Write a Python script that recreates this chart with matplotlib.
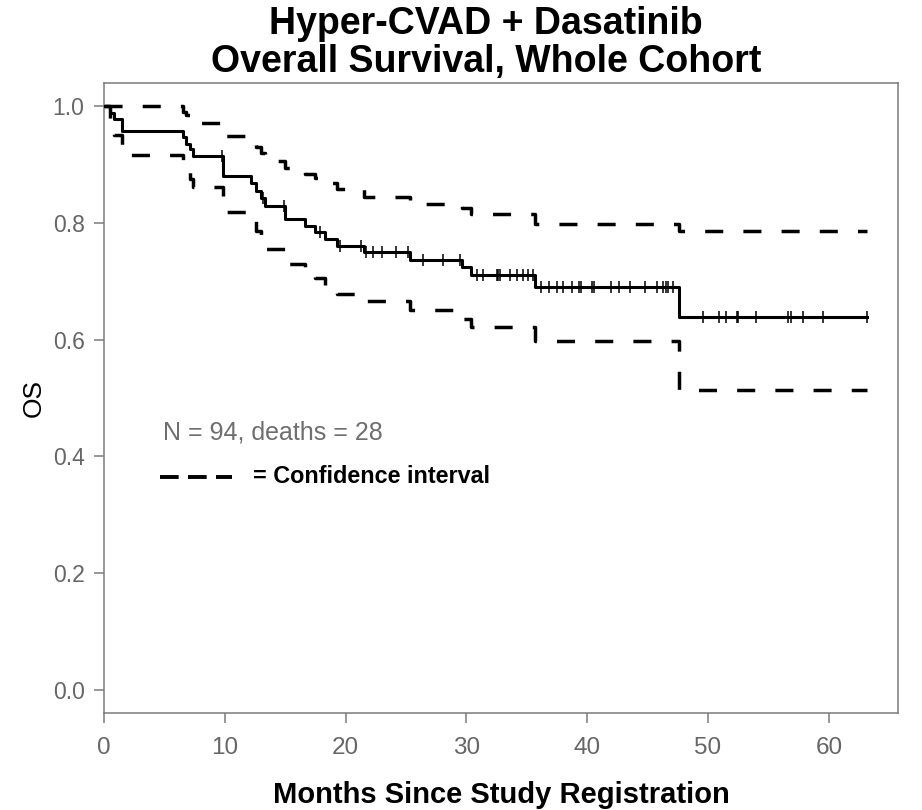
import numpy as np
import matplotlib.pyplot as plt

plt.rcParams['font.family'] = ['Liberation Sans', 'DejaVu Sans']

# Kaplan-Meier steps: month of the step and OS just after it
event_months = [0, 0.5, 0.8, 1.5, 6.5, 6.8, 7.1, 7.4, 9.85, 12.2, 12.6, 13.0, 13.3,
                15.0, 16.6, 17.5, 18.3, 19.3, 21.5, 25.3, 29.6, 30.4, 35.7, 47.6]
os_surv = [1.0, 0.989, 0.979, 0.957, 0.947, 0.936, 0.926, 0.915, 0.881, 0.868, 0.855,
           0.842, 0.829, 0.807, 0.795, 0.784, 0.772, 0.761, 0.750, 0.737, 0.724, 0.710,
           0.690, 0.638]
ci_upper = [1.0, 1.0, 1.0, 1.0, 0.99, 0.985, 0.978, 0.972, 0.949, 0.94, 0.93, 0.92,
            0.907, 0.894, 0.884, 0.877, 0.868, 0.858, 0.845, 0.833, 0.825, 0.815, 0.798,
            0.787]
ci_lower = [1.0, 0.97, 0.95, 0.916, 0.90, 0.888, 0.875, 0.862, 0.818, 0.803, 0.787,
            0.771, 0.755, 0.730, 0.717, 0.705, 0.692, 0.678, 0.666, 0.651, 0.636, 0.621,
            0.597, 0.514]
last_followup = 63.2

# censored patients (months)
censor_months = [9.8, 13.2, 14.9, 17.9, 19.5, 21.3, 21.7, 22.3, 23.0, 24.2, 25.2, 26.4,
                 28.1, 29.5, 30.85, 31.4, 32.5, 32.6, 32.8, 33.6, 34.2, 34.7, 35.1, 35.5,
                 36.2, 36.8, 37.5, 38.0, 38.7, 39.3, 39.5, 40.4, 40.6, 42.0, 42.6, 43.5,
                 44.8, 45.8, 46.3, 46.5, 46.7, 47.1, 49.6, 50.9, 51.5, 52.4, 52.5, 54.0,
                 56.6, 56.9, 57.9, 59.5, 63.2]

n_patients = 94
n_deaths = 28

grey = '#7a7a7a'
tick_grey = '#666666'

fig = plt.figure(figsize=(9.22, 8.10), dpi=100)
ax = fig.add_axes([0.1128, 0.1198, 0.8612, 0.7778])

t = event_months + [last_followup]
ax.step(t, os_surv + [os_surv[-1]], where='post', color='black', lw=2.2, zorder=3)
ax.step(t, ci_upper + [ci_upper[-1]], where='post', color='black', lw=2.5,
        dashes=(5.2, 5.8))
ax.step(t, ci_lower + [ci_lower[-1]], where='post', color='black', lw=2.5,
        dashes=(5.2, 5.8))

idx = np.searchsorted(event_months, censor_months, side='right') - 1
ax.plot(censor_months, np.array(os_surv)[idx], ls='none', marker='|', ms=8,
        mew=1.1, color='black', zorder=4)

ax.set_xlim(0, last_followup * 1.04)
ax.set_ylim(-0.04, 1.04)
ax.set_xticks(range(0, 61, 10))
ax.set_yticks([0.0, 0.2, 0.4, 0.6, 0.8, 1.0])
ax.set_yticklabels(['0.0', '0.2', '0.4', '0.6', '0.8', '1.0'])

for s in ax.spines.values():
    s.set_color(grey)
    s.set_linewidth(1.1)
ax.tick_params(axis='both', colors=grey, length=7, width=1.1, direction='out')
ax.tick_params(axis='x', labelsize=17.5, labelcolor=tick_grey, pad=10)
ax.tick_params(axis='y', labelsize=16.5, labelcolor=tick_grey, pad=7)

ax.set_xlabel('Months Since Study Registration', fontsize=21, fontweight='bold',
              labelpad=16)
ax.set_ylabel('OS', fontsize=19, labelpad=5)

fig.text(0.527, 0.993, 'Hyper-CVAD + Dasatinib\nOverall Survival, Whole Cohort',
         ha='center', va='top', fontsize=27, fontweight='bold', linespacing=1.1)

ax.text(4.9, 0.441, 'N = %d, deaths = %d' % (n_patients, n_deaths), fontsize=18,
        color='#6e6e6e', va='center')
ax.plot([4.6, 10.6], [0.365, 0.365], color='black', lw=2.8, dashes=(4.8, 2.4))
ax.text(12.3, 0.365, '= Confidence interval', fontsize=16.8, fontweight='bold',
        va='center')

fig.savefig('out.png', dpi=100)
